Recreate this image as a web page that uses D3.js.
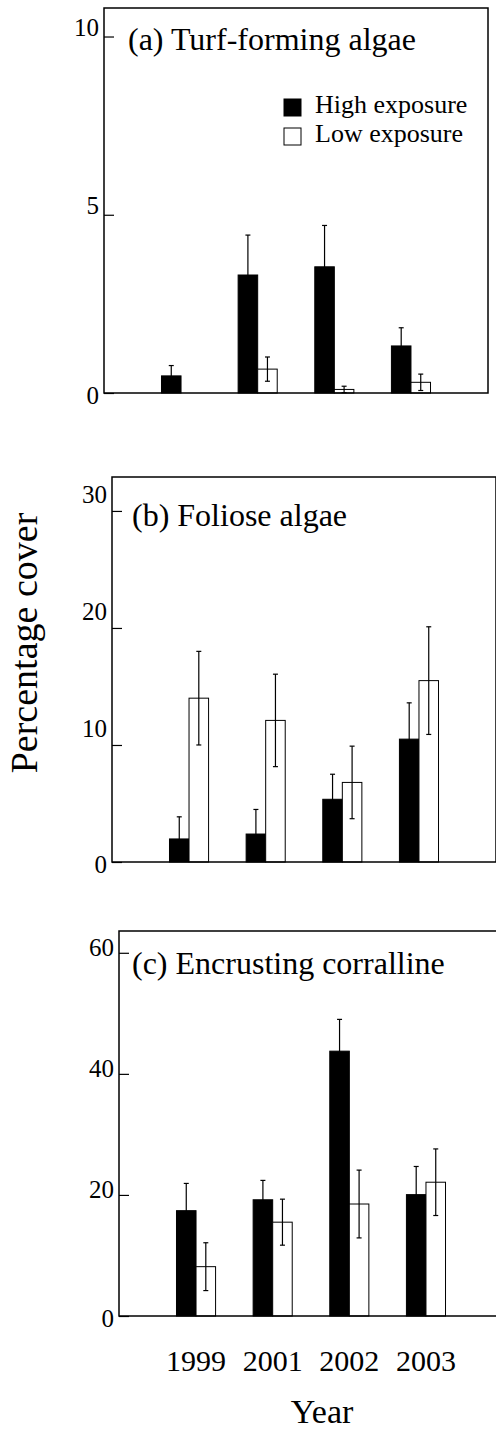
<!DOCTYPE html>
<html>
<head>
<meta charset="utf-8">
<script src="https://cdn.jsdelivr.net/npm/d3@7"></script>
<style>
  body { margin: 0; background: #fff; }
  svg { display: block; font-family: 'Liberation Serif', 'Times New Roman', serif; }
</style>
</head>
<body>
<svg id="chart" width="496" height="1432"></svg>
<script>
// Categories and series
const years = ['1999', '2001', '2002', '2003'];
const seriesNames = ['High exposure', 'Low exposure'];

// (a) Turf-forming algae
const turfHigh = [0.48, 3.31, 3.54, 1.32];
const turfHighErr = [0.29, 1.12, 1.16, 0.51];
const turfLow = [0, 0.67, 0.10, 0.30];
const turfLowErr = [0, 0.34, 0.09, 0.23];
const turfTicks = [0, 5, 10];

// (b) Foliose algae
const folioseHigh = [1.97, 2.39, 5.36, 10.5];
const folioseHighErr = [1.89, 2.1, 2.14, 3.1];
const folioseLow = [14.0, 12.1, 6.8, 15.5];
const folioseLowErr = [4.0, 3.95, 3.1, 4.6];
const folioseTicks = [0, 10, 20, 30];

// (c) Encrusting corralline
const corallineHigh = [17.4, 19.2, 43.75, 20.05];
const corallineHighErr = [4.5, 3.2, 5.25, 4.65];
const corallineLow = [8.15, 15.5, 18.5, 22.1];
const corallineLowErr = [3.95, 3.8, 5.6, 5.5];
const corallineTicks = [0, 20, 40, 60];

const svg = d3.select('#chart');
const plotW = 384;
const plotH = 385;

// Panel layout (positions only)
const panels = [
  { title: '(a) Turf-forming algae', left: 104, top: 8, max: 10.8, ticks: turfTicks,
    high: turfHigh, highErr: turfHighErr, low: turfLow, lowErr: turfLowErr,
    titleX: 24, titleY: 42, labelDy: -9, legend: true },
  { title: '(b) Foliose algae', left: 112, top: 477, max: 32.9, ticks: folioseTicks,
    high: folioseHigh, highErr: folioseHighErr, low: folioseLow, lowErr: folioseLowErr,
    titleX: 20, titleY: 49, labelDy: -16 },
  { title: '(c) Encrusting corralline', left: 119, top: 931, max: 63.6, ticks: corallineTicks,
    high: corallineHigh, highErr: corallineHighErr, low: corallineLow, lowErr: corallineLowErr,
    titleX: 13, titleY: 43, labelDy: -5, xAxis: true }
];

// Shared x scales: year groups, then high/low inside each group
const x = d3.scaleBand().domain(years).range([0, plotW])
  .paddingInner(0.49).paddingOuter(0.75);
const xInner = d3.scaleBand().domain(seriesNames).range([0, x.bandwidth()]);
const fill = d3.scaleOrdinal().domain(seriesNames).range(['#000', '#fff']);

panels.forEach((p) => {
  const g = svg.append('g').attr('transform', `translate(${p.left}, ${p.top})`);
  const y = d3.scaleLinear().domain([0, p.max]).range([plotH, 0]);

  // Y axis with inward ticks
  const yAxis = d3.axisLeft(y).tickValues(p.ticks).tickSize(-10).tickPadding(5);
  const ax = g.append('g').call(yAxis);
  ax.select('.domain').remove();
  ax.selectAll('line').attr('stroke', '#000').attr('stroke-width', 1.2);
  ax.selectAll('text')
    .attr('font-size', 25)
    .attr('font-family', "'Liberation Serif', serif")
    .attr('fill', '#000')
    .attr('dy', d => (d === 0 ? '0.35em' : '0.32em'))
    .attr('y', d => (d === 0 ? 2 : p.labelDy));

  // Bars
  const rows = [];
  years.forEach((yr, i) => {
    rows.push({ year: yr, s: seriesNames[0], v: p.high[i], e: p.highErr[i] });
    rows.push({ year: yr, s: seriesNames[1], v: p.low[i], e: p.lowErr[i] });
  });

  g.selectAll('rect.bar')
    .data(rows)
    .enter()
    .append('rect')
      .attr('class', 'bar')
      .attr('x', d => x(d.year) + xInner(d.s))
      .attr('y', d => y(d.v))
      .attr('width', xInner.bandwidth())
      .attr('height', d => plotH - y(d.v))
      .attr('fill', d => fill(d.s))
      .attr('stroke', '#000')
      .attr('stroke-width', 1);

  // Error bars
  const err = g.selectAll('g.err')
    .data(rows.filter(d => d.e > 0))
    .enter()
    .append('g')
      .attr('class', 'err')
      .attr('transform', d => `translate(${x(d.year) + xInner(d.s) + xInner.bandwidth() / 2}, 0)`);

  err.append('line')
    .attr('y1', d => y(Math.max(0, d.v - d.e)))
    .attr('y2', d => y(d.v + d.e))
    .attr('stroke', '#000')
    .attr('stroke-width', 1.2);

  [1, -1].forEach((sgn) => {
    err.append('line')
      .attr('x1', -2.5)
      .attr('x2', 2.5)
      .attr('y1', d => y(Math.max(0, d.v + sgn * d.e)))
      .attr('y2', d => y(Math.max(0, d.v + sgn * d.e)))
      .attr('stroke', '#000')
      .attr('stroke-width', 1.2);
  });

  // Frame
  g.append('rect')
    .attr('width', plotW)
    .attr('height', plotH)
    .attr('fill', 'none')
    .attr('stroke', '#000')
    .attr('stroke-width', 1.5);

  // Panel title
  g.append('text')
    .attr('x', p.titleX)
    .attr('y', p.titleY)
    .attr('font-size', 32)
    .text(p.title);

  // Legend in panel (a)
  if (p.legend) {
    const lg = g.selectAll('g.legend')
      .data(seriesNames)
      .enter()
      .append('g')
        .attr('class', 'legend')
        .attr('transform', (d, i) => `translate(180, ${91 + i * 29})`);
    lg.append('rect')
      .attr('width', 17)
      .attr('height', 17)
      .attr('fill', d => fill(d))
      .attr('stroke', '#000')
      .attr('stroke-width', 1);
    lg.append('text')
      .attr('x', 31)
      .attr('y', 14)
      .attr('font-size', 26)
      .text(d => d);
  }

  // Year axis under panel (c)
  if (p.xAxis) {
    const xa = g.append('g')
      .attr('transform', `translate(0, ${plotH})`)
      .call(d3.axisBottom(x).tickSize(0).tickPadding(34));
    xa.select('.domain').remove();
    xa.selectAll('text')
      .attr('font-size', 30)
      .attr('font-family', "'Liberation Serif', serif")
      .attr('fill', '#000');
  }
});

// Axis titles
svg.append('text')
  .attr('transform', 'translate(37, 643) rotate(-90)')
  .attr('text-anchor', 'middle')
  .attr('font-size', 38)
  .text('Percentage cover');

svg.append('text')
  .attr('x', 322)
  .attr('y', 1423)
  .attr('text-anchor', 'middle')
  .attr('font-size', 34)
  .text('Year');
</script>
</body>
</html>
